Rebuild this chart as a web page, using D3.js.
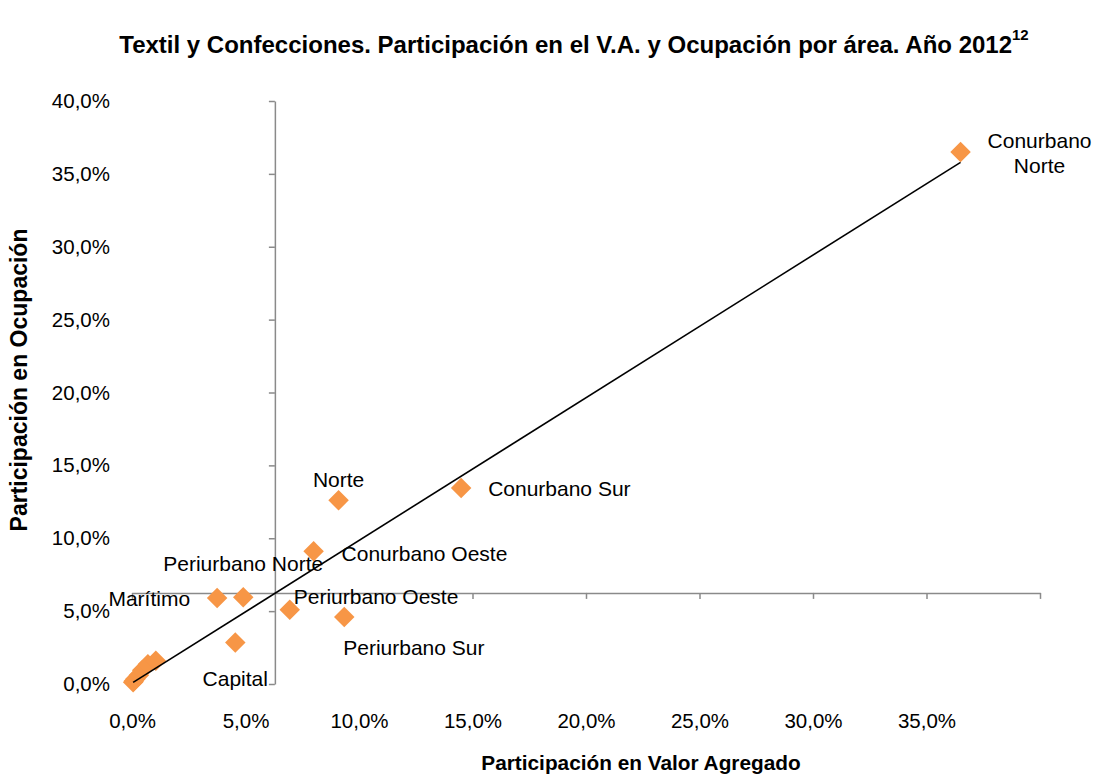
<!DOCTYPE html>
<html>
<head>
<meta charset="utf-8">
<script src="https://cdn.jsdelivr.net/npm/d3@7"></script>
<style>
  body { margin: 0; background: #fff; }
  svg { font-family: "Liberation Sans", Arial, sans-serif; }
</style>
</head>
<body>
<svg id="chart" width="1094" height="774"></svg>
<script>
// áreas (las sin nombre no llevan etiqueta en el original)
const areas   = ['Conurbano Norte', 'Conurbano Sur', 'Norte', 'Conurbano Oeste', 'Periurbano Norte',
                 'Marítimo', 'Periurbano Oeste', 'Periurbano Sur', 'Capital',
                 null, null, null, null, null, null, null];
const shareVA  = [36.5, 14.5, 9.1, 8.0, 4.9, 3.75, 6.95, 9.35, 4.55, 1.05, 0.7, 0.45, 0.3, 0.15, 0.08, 0.05];
const shareOcc = [36.5, 13.45, 12.6, 9.1, 5.95, 5.9, 5.1, 4.6, 2.85, 1.6, 1.35, 0.95, 0.6, 0.35, 0.2, 0.12];

const xTicks = [0, 5, 10, 15, 20, 25, 30, 35];
const yTicks = [0, 5, 10, 15, 20, 25, 30, 35, 40];
const axisCross = 6.25;            // promedio 100% / 16 áreas
const trendSlope = 0.979, trendIntercept = 0.06;

// ubicación manual de las etiquetas (px respecto del punto)
const labelPos = {
  'Conurbano Norte':  { dx: 79,  dy: -4,  anchor: 'middle', lines: ['Conurbano', 'Norte'] },
  'Conurbano Sur':    { dx: 27,  dy: 8,   anchor: 'start' },
  'Norte':            { dx: 0,   dy: -13, anchor: 'middle' },
  'Conurbano Oeste':  { dx: 28,  dy: 10,  anchor: 'start' },
  'Periurbano Norte': { dx: 0,   dy: -26, anchor: 'middle' },
  'Marítimo':         { dx: -27, dy: 8,   anchor: 'end' },
  'Periurbano Oeste': { dx: 4,   dy: -6,  anchor: 'start' },
  'Periurbano Sur':   { dx: -1,  dy: 38,  anchor: 'start' },
  'Capital':          { dx: 0,   dy: 44,  anchor: 'middle' }
};

const loc = d3.formatLocale({ decimal: ',', thousands: '.', grouping: [3], currency: ['$', ''] });
const pct = d => loc.format('.1f')(d) + '%';

const svg = d3.select('#chart');
const x = d3.scaleLinear().domain([0, 40]).range([132, 1040]);
const y = d3.scaleLinear().domain([0, 40]).range([684, 101]);
const axisColor = '#8a8a8a';

// título
const title = svg.append('text')
  .attr('x', 574).attr('y', 53)
  .attr('text-anchor', 'middle')
  .attr('font-size', 24).attr('font-weight', 'bold')
  .text('Textil y Confecciones. Participación en el V.A. y Ocupación por área. Año 2012');
title.append('tspan').attr('font-size', 15).attr('dy', -13).text('12');

// ejes cruzados en el promedio
const gx = svg.append('g').attr('transform', `translate(0,${y(axisCross)})`)
  .call(d3.axisBottom(x).tickValues(d3.range(0, 41, 5)).tickSizeInner(6).tickSizeOuter(0).tickFormat(''));
const gy = svg.append('g').attr('transform', `translate(${x(axisCross) + 1},0)`)
  .call(d3.axisLeft(y).tickValues(yTicks).tickSizeInner(6).tickSizeOuter(0).tickFormat(''));
[gx, gy].forEach(g => {
  g.selectAll('path, line').attr('stroke', axisColor).attr('stroke-width', 1.5);
});

// etiquetas de ejes en posición "baja"
const lx = svg.append('g').attr('transform', 'translate(0,710)')
  .call(d3.axisBottom(x).tickValues(xTicks).tickSize(0).tickFormat(pct));
const ly = svg.append('g').attr('transform', 'translate(113,0)')
  .call(d3.axisLeft(y).tickValues(yTicks).tickSize(0).tickFormat(pct));
[lx, ly].forEach(g => {
  g.select('.domain').remove();
  g.selectAll('text').attr('font-size', 20.5).attr('fill', '#000')
    .attr('font-family', '"Liberation Sans", Arial, sans-serif');
});

// títulos de ejes
svg.append('text')
  .attr('x', 641).attr('y', 770).attr('text-anchor', 'middle')
  .attr('font-size', 20.8).attr('font-weight', 'bold')
  .text('Participación en Valor Agregado');
svg.append('text')
  .attr('transform', 'translate(27,380) rotate(-90)').attr('text-anchor', 'middle')
  .attr('font-size', 23).attr('font-weight', 'bold')
  .text('Participación en Ocupación');

// puntos
const pts = shareVA.map((v, i) => ({ name: areas[i], va: v, occ: shareOcc[i] }));
const diamond = d3.symbol().type(d3.symbolSquare).size(210);
svg.append('g').selectAll('path')
  .data(pts.slice().reverse())
  .join('path')
  .attr('d', diamond)
  .attr('transform', d => `translate(${x(d.va)},${y(d.occ)}) rotate(45)`)
  .attr('fill', '#F79646');

// línea de tendencia
const xMin = d3.min(shareVA), xMax = d3.max(shareVA);
svg.append('line')
  .attr('x1', x(xMin)).attr('y1', y(trendSlope * xMin + trendIntercept))
  .attr('x2', x(xMax)).attr('y2', y(trendSlope * xMax + trendIntercept))
  .attr('stroke', '#000').attr('stroke-width', 1.6);

// etiquetas de datos
const lab = svg.append('g').attr('font-size', 21);
pts.filter(d => d.name).forEach(d => {
  const p = labelPos[d.name];
  const t = lab.append('text')
    .attr('x', x(d.va) + p.dx).attr('y', y(d.occ) + p.dy)
    .attr('text-anchor', p.anchor);
  if (p.lines) {
    p.lines.forEach((s, i) => t.append('tspan')
      .attr('x', x(d.va) + p.dx).attr('dy', i ? 25 : 0).text(s));
  } else {
    t.text(d.name);
  }
});
</script>
</body>
</html>
